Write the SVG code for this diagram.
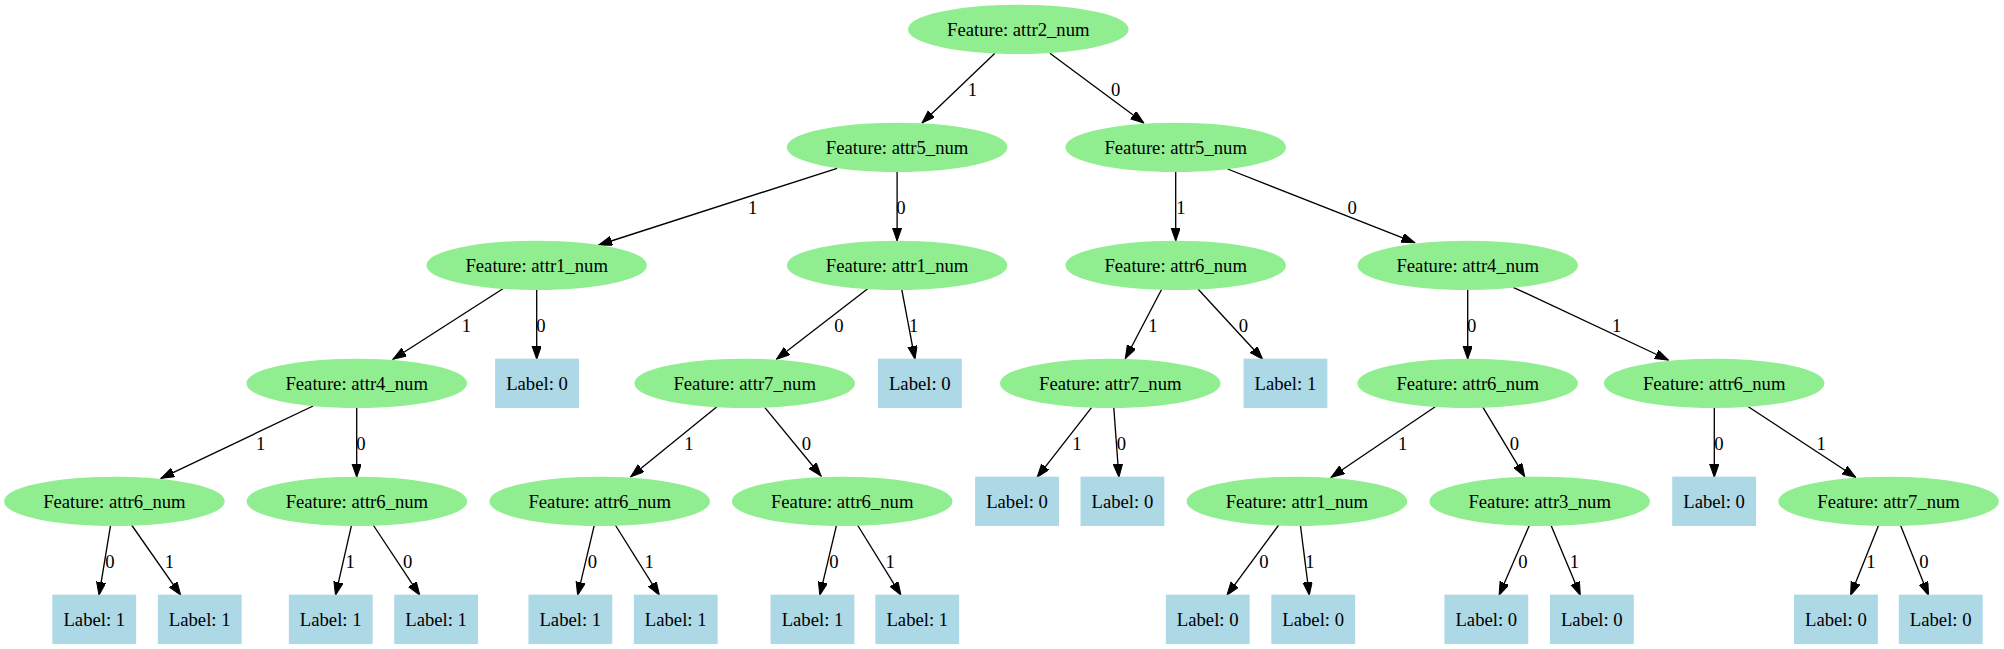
<svg xmlns="http://www.w3.org/2000/svg" width="2004" height="649" viewBox="0 0 2004 649">
<style>
.f ellipse{fill:#90ee90;stroke:#90ee90;stroke-width:1.33}
.l rect{fill:#add8e6;stroke:#add8e6;stroke-width:1.33}
text{font-family:"Liberation Serif","Times New Roman",serif;font-size:18.67px;fill:#000;text-anchor:middle}
#edges line{stroke:#000;stroke-width:1.33;marker-end:url(#arr)}
</style>
<defs>
<marker id="arr" markerUnits="userSpaceOnUse" markerWidth="14" markerHeight="10" refX="13.33" refY="4.67" orient="auto">
<path d="M0,0 L13.33,4.67 L0,9.33 z" fill="#000" stroke="#000" stroke-width="1"/>
</marker>
</defs>
<rect width="2004" height="649" fill="#fff"/>
<g id="edges">
<line x1="994.9" y1="53.3" x2="922" y2="123"/>
<line x1="1049.9" y1="53.3" x2="1143.9" y2="123"/>
<line x1="837.1" y1="168.3" x2="598.7" y2="245"/>
<line x1="897.1" y1="171.3" x2="897.1" y2="241"/>
<line x1="1175.7" y1="171.3" x2="1175.7" y2="241"/>
<line x1="1227.6" y1="169" x2="1414.8" y2="242.7"/>
<line x1="502.9" y1="288.7" x2="393" y2="359.3"/>
<line x1="536.7" y1="289.3" x2="536.7" y2="359.3"/>
<line x1="867.7" y1="288.7" x2="776.4" y2="359.3"/>
<line x1="901.6" y1="288.7" x2="915" y2="359.3"/>
<line x1="1161.7" y1="289.3" x2="1125.3" y2="358.7"/>
<line x1="1198.2" y1="289.3" x2="1262.7" y2="359.3"/>
<line x1="1467.7" y1="289.3" x2="1467.7" y2="359.3"/>
<line x1="1513.2" y1="287.3" x2="1668.4" y2="360"/>
<line x1="313.1" y1="406" x2="161" y2="478.3"/>
<line x1="356.7" y1="407.3" x2="356.7" y2="477.3"/>
<line x1="716.9" y1="406.7" x2="630.7" y2="476.7"/>
<line x1="764.9" y1="407.7" x2="821.1" y2="476"/>
<line x1="1091.5" y1="407.7" x2="1037.1" y2="477.3"/>
<line x1="1113.8" y1="407.7" x2="1118.9" y2="477.3"/>
<line x1="1435.2" y1="406.7" x2="1331.1" y2="477.3"/>
<line x1="1482.5" y1="406.7" x2="1524.7" y2="476.7"/>
<line x1="1714.3" y1="407.3" x2="1714.3" y2="477.3"/>
<line x1="1748.3" y1="406.7" x2="1855.7" y2="477.3"/>
<line x1="110.5" y1="525.7" x2="99" y2="595.3"/>
<line x1="131.6" y1="525" x2="180.8" y2="595.3"/>
<line x1="351.4" y1="525.7" x2="335.5" y2="595.3"/>
<line x1="373.2" y1="525" x2="419.8" y2="595.3"/>
<line x1="594.2" y1="525.7" x2="577.6" y2="595.3"/>
<line x1="615.3" y1="525" x2="659.4" y2="595.3"/>
<line x1="836.4" y1="525.7" x2="819.8" y2="595.3"/>
<line x1="857.5" y1="525" x2="901" y2="595.3"/>
<line x1="1278.7" y1="525" x2="1226.9" y2="595.3"/>
<line x1="1300.4" y1="525" x2="1309.3" y2="595.3"/>
<line x1="1529.2" y1="525.7" x2="1499.1" y2="595.3"/>
<line x1="1550.9" y1="525" x2="1580.3" y2="595.3"/>
<line x1="1878.7" y1="525" x2="1850.6" y2="595.3"/>
<line x1="1900.4" y1="525" x2="1928.5" y2="595.3"/>
</g>
<g id="edge-labels">
<text x="972.5" y="95.6">1</text>
<text x="1115.7" y="95.6">0</text>
<text x="752.7" y="213.6">1</text>
<text x="901" y="213.6">0</text>
<text x="1180.9" y="213.6">1</text>
<text x="1352.2" y="213.6">0</text>
<text x="466.5" y="331.6">1</text>
<text x="541" y="331.6">0</text>
<text x="839" y="331.6">0</text>
<text x="913.7" y="331.6">1</text>
<text x="1152.8" y="331.6">1</text>
<text x="1243.5" y="331.6">0</text>
<text x="1471.7" y="331.6">0</text>
<text x="1616.7" y="331.6">1</text>
<text x="260.7" y="449.6">1</text>
<text x="361" y="449.6">0</text>
<text x="688.8" y="449.6">1</text>
<text x="806.4" y="449.6">0</text>
<text x="1076.8" y="449.6">1</text>
<text x="1121.5" y="449.6">0</text>
<text x="1402.6" y="449.6">1</text>
<text x="1514.5" y="449.6">0</text>
<text x="1719" y="449.6">0</text>
<text x="1821.2" y="449.6">1</text>
<text x="109.9" y="567.6">0</text>
<text x="169.3" y="567.6">1</text>
<text x="350.2" y="567.6">1</text>
<text x="407.7" y="567.6">0</text>
<text x="592.3" y="567.6">0</text>
<text x="649.2" y="567.6">1</text>
<text x="833.9" y="567.6">0</text>
<text x="890.1" y="567.6">1</text>
<text x="1264" y="567.6">0</text>
<text x="1310" y="567.6">1</text>
<text x="1522.8" y="567.6">0</text>
<text x="1574.5" y="567.6">1</text>
<text x="1871" y="567.6">1</text>
<text x="1924" y="567.6">0</text>
</g>
<g id="n0" class="f"><ellipse cx="1018.3" cy="29.3" rx="109.6" ry="24"/><text x="1018.3" y="35.6">Feature: attr2_num</text></g>
<g id="n1" class="f"><ellipse cx="897.1" cy="147.3" rx="109.6" ry="24"/><text x="897.1" y="153.6">Feature: attr5_num</text></g>
<g id="n2" class="f"><ellipse cx="1175.7" cy="147.3" rx="109.6" ry="24"/><text x="1175.7" y="153.6">Feature: attr5_num</text></g>
<g id="n3" class="f"><ellipse cx="536.7" cy="265.3" rx="109.6" ry="24"/><text x="536.7" y="271.6">Feature: attr1_num</text></g>
<g id="n4" class="f"><ellipse cx="897.1" cy="265.3" rx="109.6" ry="24"/><text x="897.1" y="271.6">Feature: attr1_num</text></g>
<g id="n5" class="f"><ellipse cx="1175.7" cy="265.3" rx="109.6" ry="24"/><text x="1175.7" y="271.6">Feature: attr6_num</text></g>
<g id="n6" class="f"><ellipse cx="1467.7" cy="265.3" rx="109.6" ry="24"/><text x="1467.7" y="271.6">Feature: attr4_num</text></g>
<g id="n7" class="f"><ellipse cx="356.7" cy="383.3" rx="109.6" ry="24"/><text x="356.7" y="389.6">Feature: attr4_num</text></g>
<g id="n8" class="l"><rect x="495.8" y="359.3" width="82.5" height="48"/><text x="537" y="389.6">Label: 0</text></g>
<g id="n9" class="f"><ellipse cx="744.7" cy="383.3" rx="109.6" ry="24"/><text x="744.7" y="389.6">Feature: attr7_num</text></g>
<g id="n10" class="l"><rect x="878.6" y="359.3" width="82.5" height="48"/><text x="919.8" y="389.6">Label: 0</text></g>
<g id="n11" class="f"><ellipse cx="1110.3" cy="383.3" rx="109.6" ry="24"/><text x="1110.3" y="389.6">Feature: attr7_num</text></g>
<g id="n12" class="l"><rect x="1244.2" y="359.3" width="82.5" height="48"/><text x="1285.4" y="389.6">Label: 1</text></g>
<g id="n13" class="f"><ellipse cx="1467.7" cy="383.3" rx="109.6" ry="24"/><text x="1467.7" y="389.6">Feature: attr6_num</text></g>
<g id="n14" class="f"><ellipse cx="1714.2" cy="383.3" rx="109.6" ry="24"/><text x="1714.2" y="389.6">Feature: attr6_num</text></g>
<g id="n15" class="f"><ellipse cx="114.4" cy="501.3" rx="109.6" ry="24"/><text x="114.4" y="507.6">Feature: attr6_num</text></g>
<g id="n16" class="f"><ellipse cx="356.9" cy="501.3" rx="109.6" ry="24"/><text x="356.9" y="507.6">Feature: attr6_num</text></g>
<g id="n17" class="f"><ellipse cx="599.7" cy="501.3" rx="109.6" ry="24"/><text x="599.7" y="507.6">Feature: attr6_num</text></g>
<g id="n18" class="f"><ellipse cx="842.2" cy="501.3" rx="109.6" ry="24"/><text x="842.2" y="507.6">Feature: attr6_num</text></g>
<g id="n19" class="l"><rect x="975.8" y="477.3" width="82.5" height="48"/><text x="1017" y="507.6">Label: 0</text></g>
<g id="n20" class="l"><rect x="1081.2" y="477.3" width="82.5" height="48"/><text x="1122.4" y="507.6">Label: 0</text></g>
<g id="n21" class="f"><ellipse cx="1296.9" cy="501.3" rx="109.6" ry="24"/><text x="1296.9" y="507.6">Feature: attr1_num</text></g>
<g id="n22" class="f"><ellipse cx="1539.7" cy="501.3" rx="109.6" ry="24"/><text x="1539.7" y="507.6">Feature: attr3_num</text></g>
<g id="n23" class="l"><rect x="1672.9" y="477.3" width="82.5" height="48"/><text x="1714.1" y="507.6">Label: 0</text></g>
<g id="n24" class="f"><ellipse cx="1888.6" cy="501.3" rx="109.6" ry="24"/><text x="1888.6" y="507.6">Feature: attr7_num</text></g>
<g id="n25" class="l"><rect x="53" y="595.3" width="82.5" height="48"/><text x="94.3" y="625.6">Label: 1</text></g>
<g id="n26" class="l"><rect x="158.5" y="595.3" width="82.5" height="48"/><text x="199.7" y="625.6">Label: 1</text></g>
<g id="n27" class="l"><rect x="289.5" y="595.3" width="82.5" height="48"/><text x="330.7" y="625.6">Label: 1</text></g>
<g id="n28" class="l"><rect x="394.9" y="595.3" width="82.5" height="48"/><text x="436.1" y="625.6">Label: 1</text></g>
<g id="n29" class="l"><rect x="529.1" y="595.3" width="82.5" height="48"/><text x="570.3" y="625.6">Label: 1</text></g>
<g id="n30" class="l"><rect x="634.5" y="595.3" width="82.5" height="48"/><text x="675.7" y="625.6">Label: 1</text></g>
<g id="n31" class="l"><rect x="771.2" y="595.3" width="82.5" height="48"/><text x="812.5" y="625.6">Label: 1</text></g>
<g id="n32" class="l"><rect x="876" y="595.3" width="82.5" height="48"/><text x="917.3" y="625.6">Label: 1</text></g>
<g id="n33" class="l"><rect x="1166.5" y="595.3" width="82.5" height="48"/><text x="1207.7" y="625.6">Label: 0</text></g>
<g id="n34" class="l"><rect x="1272" y="595.3" width="82.5" height="48"/><text x="1313.2" y="625.6">Label: 0</text></g>
<g id="n35" class="l"><rect x="1445.1" y="595.3" width="82.5" height="48"/><text x="1486.3" y="625.6">Label: 0</text></g>
<g id="n36" class="l"><rect x="1550.6" y="595.3" width="82.5" height="48"/><text x="1591.8" y="625.6">Label: 0</text></g>
<g id="n37" class="l"><rect x="1794.7" y="595.3" width="82.5" height="48"/><text x="1835.9" y="625.6">Label: 0</text></g>
<g id="n38" class="l"><rect x="1899.5" y="595.3" width="82.5" height="48"/><text x="1940.7" y="625.6">Label: 0</text></g>
</svg>
